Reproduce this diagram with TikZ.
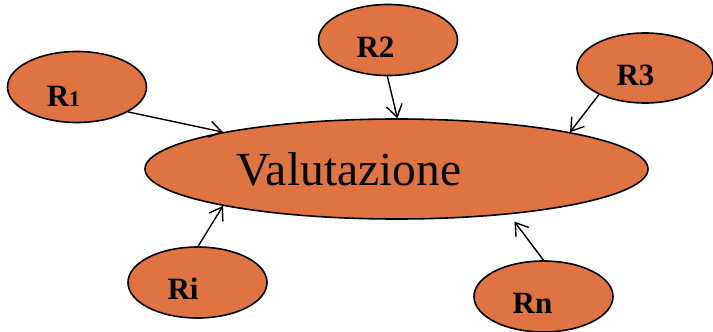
\documentclass[tikz,border=0pt]{standalone}
\usepackage{fontspec}
\setmainfont{Liberation Serif}
\usetikzlibrary{shapes.geometric,arrows.meta}
\definecolor{boxorange}{RGB}{224,115,66}
\begin{document}
\begin{tikzpicture}[x=1pt,y=-1pt,
  blob/.style={ellipse,draw=black,line width=1.6pt,fill=boxorange,inner sep=0pt,
    minimum width=139pt,minimum height=71pt},
  rlabel/.style={anchor=base,inner sep=0pt,font=\fontsize{31}{31}\selectfont\bfseries},
  link/.style={line width=1.4pt,-{Straight Barb[length=12pt,width=16pt,line width=1.4pt]}}]
\useasboundingbox (0,0) rectangle (713,332);

% central ellipse
\node[blob,minimum width=503pt,minimum height=100pt] (val) at (396.5,169) {};
\node[anchor=base,inner sep=0pt,font=\fontsize{47.5}{47.5}\selectfont] (valtext) at (349,185) {Valutazione};

% surrounding ellipses
\node[blob] (r1) at (77,87) {};
\node[blob] (r2) at (388,40) {};
\node[blob,minimum width=136pt,minimum height=70pt] (r3) at (645,68) {};
\node[blob] (ri) at (197.5,282.5) {};
\node[blob] (rn) at (543.5,296.5) {};

\node[rlabel] (r1text) at (63.5,106) {R{\fontsize{22}{22}\selectfont 1}};
\node[rlabel] (r2text) at (375.5,57) {R2};
\node[rlabel] (r3text) at (635.5,85) {R3};
\node[rlabel] (ritext) at (183,299) {Ri};
\node[rlabel] (rntext) at (532.5,313) {Rn};

% connectors
\draw[link] (r1.-26.6) -- (val.168.6);
\draw[link] (r2.-91.5) -- (val.89.5);
\draw[link] (r3.-150.6) -- (val.12);
\draw[link] (ri.89) -- (val.-168.3);
\draw[link,shorten >=9pt] (rn.90) -- (val.-22.6);
\end{tikzpicture}
\end{document}
